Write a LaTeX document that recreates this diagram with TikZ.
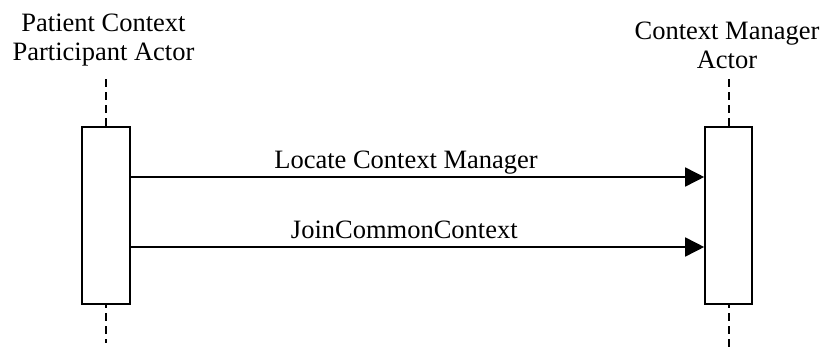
\documentclass[tikz,border=0pt]{standalone}
\usepackage{fontspec}
\setmainfont{Liberation Serif}
\usetikzlibrary{arrows.meta}

\tikzset{
  lifeline/.style={line width=1.2pt, dash pattern=on 8pt off 5pt},
  actbox/.style={draw, line width=1.6pt, fill=white, minimum width=48pt, minimum height=177pt, inner sep=0pt},
  msg/.style={line width=1.6pt, -{Triangle[length=19pt, width=19pt]}},
  actor/.style={align=center, font=\fontsize{26.5}{29}\selectfont, inner sep=0pt, anchor=north},
  msglabel/.style={font=\fontsize{26.5}{29}\selectfont, inner sep=0pt, anchor=base}
}

\begin{document}
\begin{tikzpicture}[x=1pt, y=-1pt]
\useasboundingbox (0,0) rectangle (823,348);

% lifelines
\coordinate (ptop) at (106, 79);
\coordinate (pbot) at (106, 343);
\coordinate (mtop) at (729, 79);
\coordinate (mbot) at (729, 348);
\draw [lifeline] (ptop) -- (pbot);
\draw [lifeline] (mtop) -- (mbot);

% activation boxes
\node [actbox] (pbox) at (106, 215.5) {};
\node [actbox, minimum width=47pt] (mbox) at (728.5, 215.5) {};

% actor names
\node [actor] (pname) at (103.5, 13.5) {Patient Context\\Participant Actor};
\node [actor] (mname) at (727, 21.5) {Context Manager\\Actor};

% messages
\draw [msg] ([yshift=38.5pt]pbox.east) -- ([yshift=38.5pt]mbox.west)
  node [msglabel, pos=0.48, yshift=8.5pt] (locate) {Locate Context Manager};
\draw [msg] ([yshift=-31.5pt]pbox.east) -- ([yshift=-31.5pt]mbox.west)
  node [msglabel, pos=0.477, yshift=9pt] (join) {JoinCommonContext};

\end{tikzpicture}
\end{document}
